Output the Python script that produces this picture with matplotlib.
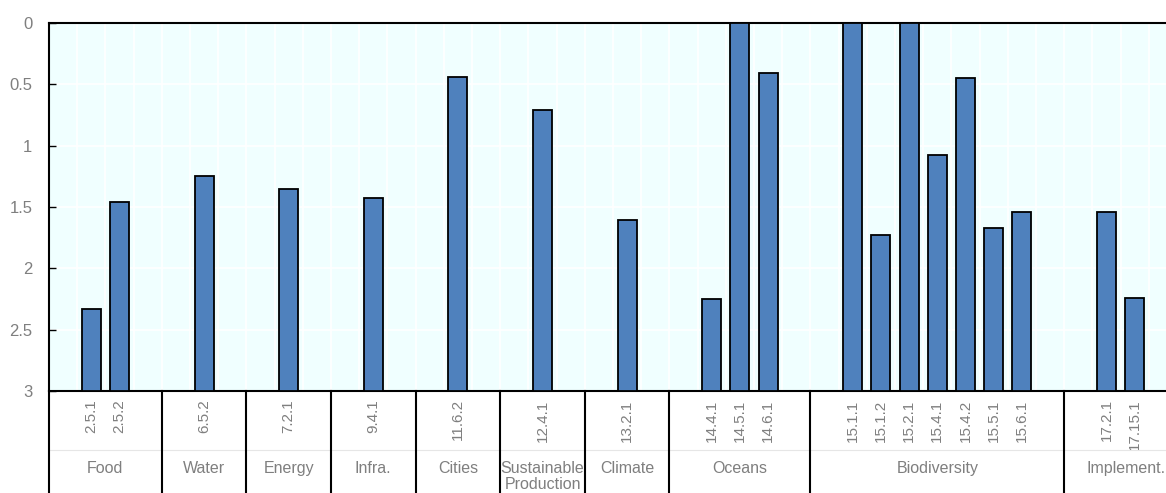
import numpy as np
import matplotlib
matplotlib.use("Agg")
from matplotlib import pyplot as plt
from matplotlib import transforms

plt.rcParams['font.family'] = ['Liberation Sans Narrow', 'Liberation Sans', 'DejaVu Sans']

# indicator codes, their slot on the x axis and values (0 = top, 3 = bottom)
codes = ["2.5.1", "2.5.2", "6.5.2", "7.2.1", "9.4.1", "11.6.2", "12.4.1",
         "13.2.1", "14.4.1", "14.5.1", "14.6.1", "15.1.1", "15.1.2", "15.2.1",
         "15.4.1", "15.4.2", "15.5.1", "15.6.1", "17.2.1", "17.15.1"]
slots = [1, 2, 5, 8, 11, 14, 17, 20, 23, 24, 25, 28, 29, 30, 31, 32, 33, 34, 37, 38]
values = [2.33, 1.46, 1.25, 1.35, 1.43, 0.44, 0.71, 1.61, 2.25, 0.0, 0.41,
          0.0, 1.73, 0.0, 1.08, 0.45, 1.67, 1.54, 1.54, 2.24]

groups = ["Food", "Water", "Energy", "Infra.", "Cities", "Sustainable\nProduction",
          "Climate", "Oceans", "Biodiversity", "Implement."]
group_edges = [0, 4, 7, 10, 13, 16, 19, 22, 27, 36, 40]

fig = plt.figure(figsize=(11.66, 4.93), dpi=100)
ax = fig.add_axes([49 / 1166, 102 / 493, 1 - 49 / 1166, 368 / 493])
ax.set_facecolor("#F0FFFF")

x = np.array(slots) + 0.5
ax.bar(x, np.array(values) - 3, bottom=3, width=0.68,
       color="#4F81BD", edgecolor="black", linewidth=1.3, zorder=3)

ax.set_xlim(0, (1166 - 49) / 28.2)
ax.set_ylim(3, 0)
ax.set_yticks([0, 0.5, 1, 1.5, 2, 2.5, 3])
ax.set_yticklabels(["0", "0.5", "1", "1.5", "2", "2.5", "3"])
ax.set_xticks(x)
ax.set_xticklabels(codes, rotation=90, va="top")
ax.set_xticks(np.arange(0, 40), minor=True)

ax.tick_params(axis="y", direction="in", length=5, width=1, colors="black",
               labelcolor="#7f7f7f", labelsize=12, pad=12)
ax.tick_params(axis="x", which="both", length=0, labelcolor="#7f7f7f",
               labelsize=11, pad=6)

ax.grid(axis="y", color="white", linewidth=1.2, zorder=0)
ax.grid(axis="x", which="minor", color="white", linewidth=1.2, zorder=0)
ax.set_axisbelow(True)

for side in ["left", "top", "bottom"]:
    ax.spines[side].set_color("black")
    ax.spines[side].set_linewidth(1.5)
ax.spines["right"].set_visible(False)

trans = transforms.blended_transform_factory(ax.transData, ax.transAxes)
ax.plot([0, 40], [-0.16, -0.16], transform=trans, color="#e6e6e6",
        linewidth=0.8, clip_on=False)
for edge in group_edges[:-1]:
    ax.plot([edge, edge], [0, -0.3], transform=trans, color="black",
            linewidth=1.5, clip_on=False)
for name, a, b in zip(groups, group_edges[:-1], group_edges[1:]):
    mid = (a + b) / 2
    if name == "Implement.":
        mid = 38.2
    ax.text(mid, -0.19, name, transform=trans, ha="center", va="top",
            fontsize=11.5, color="#7f7f7f", linespacing=1.1)

fig.savefig("out.png", dpi=100)
